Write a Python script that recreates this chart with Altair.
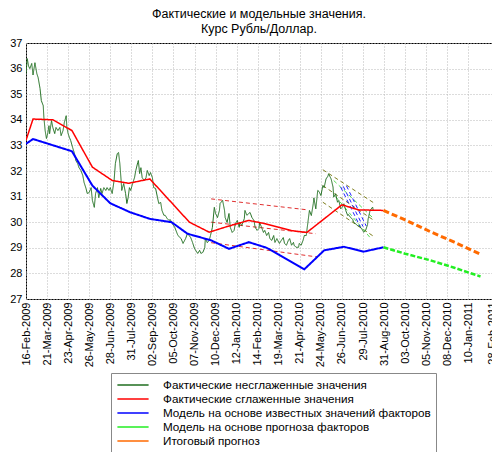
import altair as alt
import pandas as pd

# ---- data (x = days since 16-Feb-2009) ----
tick_days = [0, 33, 66, 99, 132, 165, 198, 231, 264, 297, 330, 363, 396, 429,
             462, 495, 528, 561, 594, 627, 660, 693, 730]
tick_labels = ["16-Feb-2009", "21-Mar-2009", "23-Apr-2009", "26-May-2009", "28-Jun-2009",
               "31-Jul-2009", "02-Sep-2009", "05-Oct-2009", "07-Nov-2009", "10-Dec-2009",
               "12-Jan-2010", "14-Feb-2010", "19-Mar-2010", "21-Apr-2010", "24-May-2010",
               "26-Jun-2010", "29-Jul-2010", "31-Aug-2010", "03-Oct-2010", "05-Nov-2010",
               "08-Dec-2010", "10-Jan-2011", "28-Feb-2011"]

raw_days = [0, 2, 4, 6, 9, 11, 14, 17, 19, 22, 24, 27, 28, 30, 32, 34, 36, 37, 40, 42,
            45, 47, 50, 53, 55, 58, 60, 63, 64, 66, 68, 70, 73, 76, 78, 81, 83, 86, 89, 91,
            94, 96, 99, 102, 104, 107, 109, 112, 114, 117, 119, 122, 125, 127, 130, 132, 135, 138, 140, 143,
            145, 147, 149, 150, 153, 156, 158, 160, 162, 164, 167, 170, 172, 175, 176, 178, 180, 182, 185, 188,
            190, 193, 195, 198, 200, 203, 206, 208, 211, 213, 216, 218, 221, 224, 226, 229, 233, 238, 243, 246,
            250, 253, 258, 261, 264, 269, 272, 274, 277, 280, 281, 284, 287, 289, 292, 295, 297, 300, 303, 304,
            308, 311, 312, 315, 318, 320, 323, 326, 328, 331, 334, 335, 338, 342, 343, 346, 349, 351, 354, 357,
            359, 362, 365, 366, 369, 372, 374, 377, 380, 382, 385, 388, 390, 393, 396, 397, 400, 403, 405, 408,
            411, 413, 416, 419, 420, 423, 427, 428, 431, 434, 436, 439, 442, 444, 447, 450, 451, 454, 457, 459,
            462, 465, 467, 470, 473, 474, 478, 481, 482, 485, 488, 490, 493, 496, 498, 501, 504, 505, 508, 512,
            513, 516, 519, 521, 524, 527, 529, 532, 535, 536, 539, 543, 544]
raw_vals = [35.80, 36.39, 36.10, 36.00, 36.20, 35.75, 36.23, 35.80, 35.65, 35.22, 34.75, 34.55, 34.09, 33.58, 33.27, 33.46, 33.77, 33.46, 33.97, 33.70,
            33.46, 33.70, 33.58, 33.70, 33.38, 33.58, 33.89, 34.16, 33.70, 33.46, 33.31, 33.19, 32.92, 32.68, 32.41, 32.29, 32.13, 32.02, 31.82, 31.55,
            31.32, 31.12, 31.16, 31.35, 30.85, 30.58, 31.12, 31.35, 30.96, 31.32, 31.12, 31.35, 31.24, 31.35, 31.24, 31.35, 31.12, 31.63, 32.29, 32.68,
            32.72, 32.29, 31.63, 31.24, 31.51, 31.12, 30.73, 30.96, 31.35, 31.24, 31.51, 31.74, 32.02, 32.33, 32.41, 31.90, 32.13, 31.74, 31.63, 31.74,
            32.02, 31.82, 31.94, 31.74, 31.35, 31.32, 30.96, 30.73, 30.77, 30.46, 30.27, 30.27, 30.15, 30.07, 30.10, 29.95, 29.80, 29.48, 29.36, 29.17,
            29.36, 29.56, 29.40, 29.20, 28.97, 28.78, 28.90, 28.78, 28.82, 29.00, 29.36, 29.20, 29.29, 29.48, 29.80, 30.58, 30.34, 30.18, 30.46, 30.73,
            30.85, 30.46, 30.18, 29.99, 30.34, 29.80, 29.60, 29.68, 29.95, 30.07, 29.80, 29.99, 29.87, 30.14, 30.46, 30.27, 30.34, 30.38, 30.18, 30.07,
            29.80, 29.68, 29.76, 29.99, 29.80, 29.60, 29.68, 29.48, 29.60, 29.36, 29.29, 29.48, 29.21, 29.36, 29.21, 29.17, 29.29, 29.40, 29.17, 29.10,
            29.29, 29.36, 29.10, 29.21, 29.10, 29.02, 29.02, 29.17, 29.10, 29.29, 29.48, 29.48, 30.07, 30.46, 30.26, 30.72, 30.95, 30.52, 31.24, 31.20,
            31.04, 31.43, 31.35, 31.69, 31.80, 31.89, 31.69, 31.37, 30.98, 31.11, 30.78, 30.85, 30.52, 30.60, 30.72, 30.45, 30.26, 30.30, 30.20, 30.10,
            30.00, 29.95, 29.87, 29.85, 29.80, 29.70, 29.61, 29.68, 29.90, 30.13, 30.46, 30.59, 30.46]

smooth_days = [0, 11, 42, 72, 104, 135, 161, 194, 256, 287, 315, 349, 375, 416, 440, 495, 521, 560]
smooth_vals = [33.20, 34.03, 34.00, 33.58, 32.15, 31.63, 31.52, 31.69, 30.00, 29.61, 29.83, 30.07, 29.94, 29.67, 29.60, 30.68, 30.48, 30.46]

model_days = [0, 11, 72, 104, 132, 163, 194, 228, 253, 290, 318, 349, 377, 436, 467, 498, 529, 560]
model_vals = [33.06, 33.25, 32.77, 31.43, 30.74, 30.39, 30.13, 30.00, 29.55, 29.29, 28.96, 29.22, 29.00, 28.16, 28.90, 29.04, 28.85, 29.02]

fc_days = [560, 594, 635, 671, 712]
model_fc_vals = [29.02, 28.77, 28.50, 28.22, 27.88]
final_fc_vals = [30.46, 30.09, 29.61, 29.22, 28.75]

series_names = ["Фактические несглаженные значения",
                "Фактические сглаженные значения",
                "Модель на основе известных значений факторов",
                "Модель на основе прогноза факторов",
                "Итоговый прогноз"]
series_colors = ["#1f6e1f", "#ff0000", "#0000ff", "#22ee22", "#ff6a00"]
series_dashes = [[1, 0], [1, 0], [1, 0], [5, 2], [6, 3]]
series_widths = [1, 3, 3, 2.5, 4]

# trend channel lines: name, colour, start day, start value, end day, end value
trend_names = ["r1", "r2", "r3", "o1", "o2", "o3", "g1", "g2", "b1", "b2", "b3"]
trend_colors = ["#e03030", "#e03030", "#e03030", "#808020", "#808020", "#808020",
                "#55dd55", "#55dd55", "#2020ff", "#2020ff", "#2020ff"]
trend_d0 = [290, 290, 290, 465, 465, 465, 482, 485, 493, 497, 502]
trend_v0 = [30.91, 30.00, 29.20, 32.05, 31.43, 30.78, 31.63, 31.00, 31.37, 31.40, 31.42]
trend_d1 = [442, 454, 457, 547, 545, 545, 543, 539, 524, 528, 533]
trend_v1 = [30.48, 29.55, 28.64, 30.72, 30.07, 29.44, 30.18, 29.40, 29.80, 29.83, 29.85]

# ---- tables ----
rows = []
for d, v in zip(raw_days, raw_vals):
    rows.append({"day": d, "value": v, "series": series_names[0]})
for d, v in zip(smooth_days, smooth_vals):
    rows.append({"day": d, "value": v, "series": series_names[1]})
for d, v in zip(model_days, model_vals):
    rows.append({"day": d, "value": v, "series": series_names[2]})
for d, v in zip(fc_days, model_fc_vals):
    rows.append({"day": d, "value": v, "series": series_names[3]})
for d, v in zip(fc_days, final_fc_vals):
    rows.append({"day": d, "value": v, "series": series_names[4]})
main_df = pd.DataFrame(rows)
main_df["order"] = main_df["series"].map({n: i for i, n in enumerate(series_names)})

trows = []
for n, c, d0, v0, d1, v1 in zip(trend_names, trend_colors, trend_d0, trend_v0, trend_d1, trend_v1):
    trows.append({"day": d0, "value": v0, "seg": n, "col": c})
    trows.append({"day": d1, "value": v1, "seg": n, "col": c})
trend_df = pd.DataFrame(trows)

label_expr = "{" + ", ".join(f"'{d}': '{l}'" for d, l in zip(tick_days, tick_labels)) + "}[datum.value]"

FONT = "Liberation Sans"

x_enc = alt.X("day:Q",
              scale=alt.Scale(domain=[0, 730], nice=False, zero=False),
              axis=alt.Axis(values=tick_days, labelExpr=label_expr, labelAngle=270,
                            labelAlign="right", labelBaseline="middle", labelPadding=3,
                            ticks=False, domain=False, title=None, labelFontSize=11,
                            labelFont=FONT, labelColor="#000", grid=True,
                            gridDash=[1, 2], gridColor="#b8b8b8", labelOverlap=False))
y_enc = alt.Y("value:Q",
              scale=alt.Scale(domain=[27, 37], nice=False, zero=False),
              axis=alt.Axis(values=list(range(27, 38)), ticks=False, domain=False, title=None,
                            labelFontSize=11, labelFont=FONT, labelColor="#000", labelPadding=4,
                            grid=True, gridDash=[1, 2], gridColor="#b8b8b8"))

trend = alt.Chart(trend_df).mark_line(strokeDash=[4, 3], strokeWidth=1).encode(
    x=x_enc, y=y_enc,
    color=alt.Color("col:N", scale=None, legend=None),
    detail="seg:N",
)

main = alt.Chart(main_df).mark_line(clip=True).encode(
    x=x_enc, y=y_enc,
    color=alt.Color("series:N", scale=alt.Scale(domain=series_names, range=series_colors),
                    legend=alt.Legend(title=None, orient="none", legendX=85, legendY=330,
                                      direction="vertical", symbolType="M-2.6,0H2.6",
                                      symbolSize=144, symbolOffset=10,
                                      labelFont=FONT, labelFontSize=11.7, labelColor="#000",
                                      labelOffset=23, strokeColor="#888888", fillColor="#ffffff",
                                      padding=5, rowPadding=-3, labelLimit=400)),
    strokeDash=alt.StrokeDash("series:N", scale=alt.Scale(domain=series_names, range=series_dashes)),
    strokeWidth=alt.StrokeWidth("series:N", scale=alt.Scale(domain=series_names, range=series_widths)),
    order="order:Q",
)

chart = alt.layer(trend, main).resolve_scale(color="independent").properties(
    width=466, height=256,
    title=alt.TitleParams(["Фактические и модельные значения.", "Курс Рубль/Доллар."],
                          font=FONT, fontSize=12.5, fontWeight="normal", color="#000",
                          anchor="middle", offset=2, lineHeight=14.5),
    padding={"left": 18, "top": 35, "right": 0, "bottom": 153},
    autosize=alt.AutoSizeParams(type="none"),
    background="#ffffff",
).configure_view(stroke="#000000", strokeWidth=1)

chart.save("out.html", embed_options={"renderer": "svg", "actions": False})
